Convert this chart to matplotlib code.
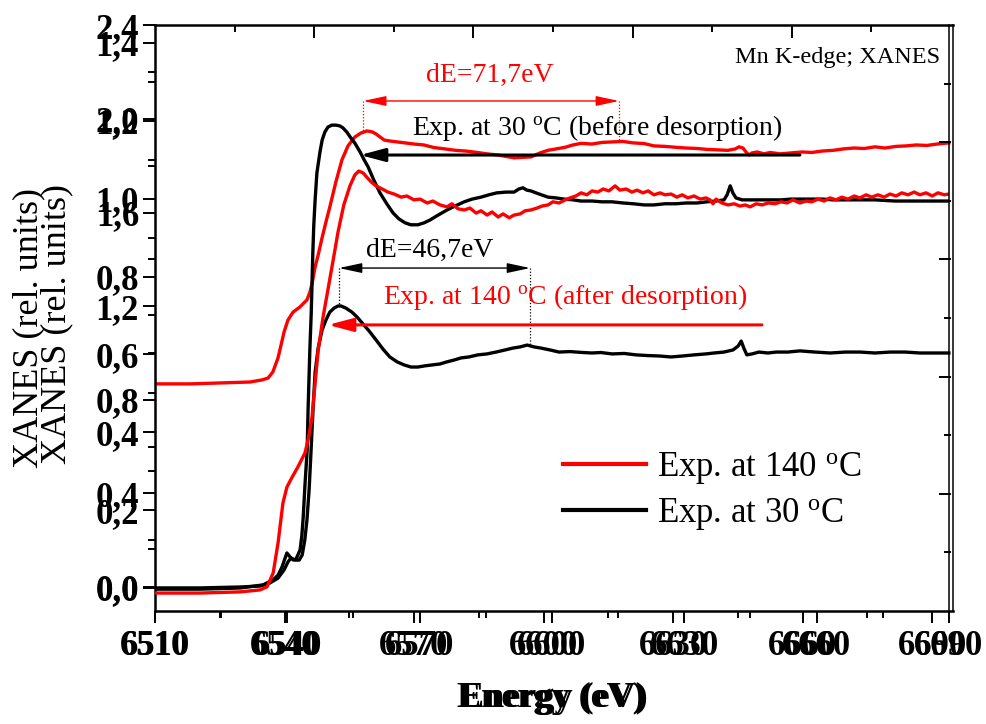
import matplotlib
matplotlib.use('Agg')
import matplotlib.pyplot as plt

plt.rcParams['font.family'] = ['Liberation Serif', 'DejaVu Serif']
plt.rcParams['mathtext.fontset'] = 'custom'
plt.rcParams['mathtext.rm'] = 'Liberation Serif'
plt.rcParams['mathtext.it'] = 'Liberation Serif:italic'
plt.rcParams['mathtext.bf'] = 'Liberation Serif:bold'

# ---------------- data (layer A: stacked spectra, 0..2.4 scale) ----------------
red_top_e = [6510.0, 6518.1, 6525.1, 6532.0, 6534.8, 6536.2, 6537.3, 6538.5, 6539.2, 6539.9,
             6540.8, 6542.0, 6543.6, 6545.2, 6545.9, 6546.4, 6547.1, 6547.8, 6548.7, 6549.6,
             6550.5, 6551.9, 6553.3, 6554.7, 6556.3, 6557.7, 6559.1, 6560.3, 6561.2, 6563.1,
             6564.4, 6566.1, 6567.9, 6570.0, 6572.3, 6574.6, 6577.2, 6579.7, 6582.0, 6584.6,
             6586.9, 6589.5, 6591.3, 6593.2, 6595.0, 6597.1, 6599.2, 6601.0, 6602.9, 6605.0,
             6606.8, 6608.7, 6611.2, 6613.6, 6615.9, 6618.4, 6620.7, 6623.3, 6625.6, 6628.1,
             6630.7, 6633.0, 6635.6, 6637.9, 6640.4, 6642.7, 6644.4, 6645.3, 6646.2, 6646.9,
             6647.6, 6648.3, 6649.5, 6651.1, 6652.5, 6654.8, 6657.3, 6659.9, 6662.2, 6664.5,
             6667.1, 6669.4, 6671.9, 6674.3, 6676.8, 6679.1, 6681.7, 6684.0, 6686.3, 6688.8,
             6691.2, 6693.9]
red_top_v = [0.868, 0.868, 0.872, 0.876, 0.885, 0.893, 0.919, 0.979, 1.034, 1.090,
             1.141, 1.175, 1.197, 1.227, 1.261, 1.299, 1.368, 1.419, 1.492, 1.560,
             1.624, 1.731, 1.825, 1.885, 1.923, 1.940, 1.949, 1.945, 1.936, 1.910,
             1.906, 1.902, 1.898, 1.893, 1.889, 1.878, 1.872, 1.866, 1.863, 1.857,
             1.851, 1.846, 1.840, 1.834, 1.836, 1.838, 1.855, 1.866, 1.872, 1.879,
             1.889, 1.896, 1.893, 1.900, 1.902, 1.904, 1.898, 1.895, 1.885, 1.883,
             1.879, 1.876, 1.874, 1.870, 1.868, 1.866, 1.872, 1.881, 1.876, 1.859,
             1.846, 1.855, 1.859, 1.851, 1.857, 1.851, 1.855, 1.859, 1.857, 1.863,
             1.866, 1.872, 1.876, 1.874, 1.881, 1.876, 1.883, 1.885, 1.889, 1.887,
             1.893, 1.898]

black_low_e = [6510.0, 6520.4, 6529.7, 6534.3, 6536.6, 6538.5, 6539.9, 6540.8, 6541.5, 6542.4,
               6543.4, 6544.1, 6544.7, 6545.2, 6545.7, 6546.1, 6546.6, 6547.1, 6547.8, 6548.7,
               6549.6, 6550.5, 6551.5, 6552.4, 6553.1, 6554.2, 6555.6, 6556.8, 6558.0, 6559.6,
               6561.2, 6562.8, 6564.4, 6566.1, 6567.7, 6569.3, 6570.9, 6572.5, 6574.2, 6576.0,
               6577.6, 6579.3, 6580.9, 6582.7, 6584.8, 6586.9, 6589.0, 6591.1, 6592.9, 6594.6,
               6596.2, 6597.8, 6599.4, 6601.5, 6603.6, 6606.1, 6609.2, 6611.2, 6613.3, 6615.9,
               6618.7, 6621.4, 6624.2, 6627.0, 6629.5, 6632.1, 6634.9, 6637.6, 6639.5, 6641.8,
               6643.9, 6645.1, 6645.8, 6646.4, 6647.1, 6648.3, 6649.9, 6652.0, 6653.9, 6656.6,
               6659.4, 6662.9, 6666.4, 6669.9, 6673.3, 6676.8, 6680.3, 6683.8, 6687.2, 6690.7,
               6693.9]
black_low_v = [-0.004, -0.004, 0.000, 0.004, 0.017, 0.038, 0.073, 0.107, 0.124, 0.115,
               0.115, 0.137, 0.201, 0.286, 0.415, 0.564, 0.756, 0.919, 1.021, 1.098,
               1.141, 1.175, 1.192, 1.201, 1.201, 1.192, 1.175, 1.154, 1.128, 1.094,
               1.056, 1.017, 0.983, 0.962, 0.949, 0.940, 0.940, 0.945, 0.949, 0.953,
               0.962, 0.970, 0.979, 0.983, 0.992, 0.996, 1.004, 1.013, 1.021, 1.026,
               1.034, 1.026, 1.021, 1.013, 1.004, 1.006, 1.002, 1.000, 1.002, 0.996,
               0.998, 0.992, 0.989, 0.987, 0.983, 0.987, 0.992, 0.996, 1.000, 1.004,
               1.013, 1.030, 1.051, 1.021, 0.992, 0.996, 1.004, 1.000, 1.004, 1.004,
               1.009, 1.004, 1.000, 1.004, 1.004, 1.000, 1.004, 1.004, 1.000, 1.000,
               1.000]

# ---------------- data (layer B: normalized spectra, 0..1.4 scale) ----------------
red_low_e = [6510.0, 6520.2, 6529.3, 6533.8, 6535.4, 6536.8, 6537.9, 6539.0, 6539.9, 6541.1,
             6542.4, 6544.0, 6544.7, 6545.6, 6546.3, 6547.0, 6548.1, 6549.2, 6550.4, 6551.5,
             6552.8, 6554.2, 6555.3, 6556.2, 6557.2, 6557.8, 6559.0, 6560.1, 6561.5, 6562.8,
             6564.2, 6565.8, 6567.1, 6568.7, 6570.1, 6571.7, 6573.0, 6574.6, 6576.2, 6577.3,
             6578.7, 6580.1, 6581.4, 6582.8, 6583.9, 6585.3, 6586.4, 6587.8, 6588.9, 6590.3,
             6591.4, 6592.8, 6593.9, 6595.2, 6596.6, 6597.7, 6599.1, 6600.2, 6601.6, 6603.0,
             6604.1, 6605.4, 6606.6, 6607.9, 6609.1, 6610.4, 6611.6, 6612.9, 6614.3, 6615.4,
             6616.8, 6618.1, 6619.3, 6620.6, 6621.8, 6623.1, 6624.5, 6625.6, 6627.0, 6628.3,
             6629.5, 6630.8, 6632.2, 6633.6, 6634.9, 6635.8, 6636.5, 6637.2, 6638.5, 6639.9,
             6641.3, 6642.6, 6643.8, 6644.9, 6646.3, 6647.6, 6649.0, 6650.6, 6651.9, 6653.3,
             6654.6, 6656.2, 6657.6, 6658.9, 6660.3, 6661.7, 6663.0, 6664.4, 6665.7, 6667.1,
             6668.5, 6669.8, 6671.2, 6672.5, 6673.9, 6675.3, 6676.6, 6678.0, 6679.3, 6680.7,
             6682.1, 6683.4, 6684.8, 6686.2, 6687.5, 6688.9, 6690.0]
red_low_v = [-0.013, -0.013, -0.010, -0.005, 0.003, 0.039, 0.116, 0.218, 0.259, 0.285,
             0.311, 0.347, 0.380, 0.439, 0.527, 0.611, 0.696, 0.766, 0.843, 0.915,
             0.984, 1.033, 1.061, 1.071, 1.066, 1.058, 1.043, 1.033, 1.025, 1.017,
             1.012, 1.004, 1.007, 0.997, 0.999, 0.989, 0.994, 0.984, 0.979, 0.987,
             0.974, 0.971, 0.976, 0.963, 0.969, 0.958, 0.966, 0.953, 0.961, 0.951,
             0.958, 0.961, 0.969, 0.971, 0.976, 0.981, 0.984, 0.992, 0.989, 0.997,
             1.002, 1.007, 1.015, 1.010, 1.020, 1.017, 1.025, 1.020, 1.033, 1.022,
             1.025, 1.017, 1.022, 1.015, 1.020, 1.010, 1.015, 1.010, 1.012, 1.004,
             1.010, 1.002, 1.007, 0.999, 1.002, 0.997, 0.987, 0.999, 0.989, 0.984,
             0.987, 0.981, 0.984, 0.979, 0.987, 0.984, 0.989, 0.987, 0.992, 0.989,
             0.997, 0.989, 0.994, 0.992, 0.999, 0.994, 1.002, 0.997, 1.004, 0.999,
             1.007, 1.002, 1.010, 1.004, 1.010, 1.004, 1.012, 1.007, 1.015, 1.010,
             1.017, 1.010, 1.015, 1.007, 1.015, 1.010, 1.012]

black_up_e = [6510.0, 6520.2, 6529.3, 6534.5, 6536.8, 6537.9, 6538.8, 6539.5, 6539.9, 6540.6,
              6541.3, 6542.0, 6542.9, 6543.3, 6543.6, 6544.0, 6544.5, 6544.7, 6545.1, 6545.4,
              6545.6, 6545.8, 6546.0, 6546.3, 6546.7, 6547.4, 6547.9, 6548.5, 6549.2, 6550.1,
              6551.0, 6551.9, 6552.6, 6553.5, 6554.4, 6555.3, 6556.5, 6557.4, 6558.3, 6559.6,
              6561.0, 6562.6, 6564.0, 6565.3, 6566.7, 6568.0, 6569.6, 6571.0, 6572.3, 6574.2,
              6576.2, 6578.0, 6580.1, 6581.9, 6583.9, 6585.7, 6587.5, 6589.6, 6591.4, 6592.5,
              6593.4, 6594.3, 6595.2, 6597.1, 6599.1, 6600.9, 6602.7, 6604.8, 6606.6, 6609.1,
              6611.3, 6613.6, 6616.1, 6618.4, 6620.9, 6623.1, 6625.6, 6628.1, 6630.4, 6632.9,
              6635.1, 6637.2, 6639.0, 6639.7, 6640.4, 6641.0, 6641.7, 6643.1, 6644.9, 6647.2,
              6649.4, 6651.9, 6654.2, 6656.7, 6658.9, 6661.4, 6663.7, 6668.5, 6673.2, 6677.8,
              6682.5, 6686.8, 6690.0]
black_up_v = [-0.003, -0.003, 0.000, 0.008, 0.021, 0.033, 0.054, 0.077, 0.090, 0.080,
              0.072, 0.075, 0.098, 0.136, 0.182, 0.265, 0.355, 0.457, 0.611, 0.701,
              0.784, 0.868, 0.933, 0.997, 1.066, 1.120, 1.151, 1.171, 1.184, 1.189,
              1.189, 1.187, 1.182, 1.171, 1.156, 1.143, 1.120, 1.100, 1.082, 1.048,
              1.015, 0.986, 0.963, 0.948, 0.938, 0.933, 0.933, 0.938, 0.945, 0.958,
              0.971, 0.981, 0.992, 0.999, 1.004, 1.010, 1.015, 1.017, 1.017, 1.025,
              1.028, 1.022, 1.020, 1.012, 1.004, 1.002, 0.999, 0.997, 0.994, 0.994,
              0.992, 0.992, 0.989, 0.987, 0.984, 0.984, 0.987, 0.987, 0.989, 0.989,
              0.992, 0.994, 0.997, 1.010, 1.033, 1.015, 1.002, 0.997, 0.997, 0.997,
              0.997, 0.997, 0.999, 0.999, 0.999, 0.999, 0.997, 0.997, 0.997, 0.994,
              0.994, 0.994, 0.994]

# ---------------- ticks & labels ----------------
x_major = [6510, 6540, 6570, 6600, 6630, 6660, 6690]
x_minor = [6525, 6555, 6585, 6615, 6645, 6675]
x_labels = ['6510', '6540', '6570', '6600', '6630', '6660', '6690']
yA_major = [0.0, 0.4, 0.8, 1.2, 1.6, 2.0, 2.4]
yA_minor = [0.2, 0.6, 1.0, 1.4, 1.8, 2.2]
yA_labels = ['0,0', '0,4', '0,8', '1,2', '1,6', '2,0', '2,4']
yB_major = [0.0, 0.2, 0.4, 0.6, 0.8, 1.0, 1.2, 1.4]
yB_minor = [0.1, 0.3, 0.5, 0.7, 0.9, 1.1, 1.3]
yB_labels = ['0,0', '0,2', '0,4', '0,6', '0,8', '1,0', '1,2', '1,4']
legend_labels = [r'Exp. at 140 $^{\rm o}$C', r'Exp. at 30 $^{\rm o}$C']

W, H = 987, 724
fig = plt.figure(figsize=(W / 100, H / 100), dpi=100)
fig.patch.set_facecolor('white')

left, bottom, top = 155, 611, 25
axA = fig.add_axes([left / W, 1 - bottom / H, (953 - left) / W, (bottom - top) / H])
axB = fig.add_axes([left / W, 1 - bottom / H, (949 - left) / W, (bottom - top) / H])
axC = fig.add_axes([left / W, 1 - bottom / H, (951 - left) / W, (bottom - top) / H])
for a in (axB, axC):
    a.patch.set_alpha(0)

axA.set_xlim(6510, 6694.86)
axA.set_ylim(-0.1026, 2.4017)
axB.set_xlim(6510, 6690.0)
axB.set_ylim(-0.0591, 1.4462)
axC.set_xlim(0, 1)
axC.set_ylim(0, 1)

lab_font = dict(fontsize=25, fontweight='bold', family=['Liberation Serif', 'DejaVu Serif'])
for ax, ymaj, ymin, ylab in ((axA, yA_major, yA_minor, yA_labels),
                             (axB, yB_major, yB_minor, yB_labels)):
    ax.set_xticks(x_major)
    ax.set_xticks(x_minor, minor=True)
    ax.set_xticklabels(x_labels, **lab_font)
    ax.set_yticks(ymaj)
    ax.set_yticks(ymin, minor=True)
    ax.set_yticklabels(ylab, **lab_font)
    ax.tick_params(which='both', direction='out', top=False, right=False, width=1.4)
    ax.tick_params(which='major', length=8.5)
    ax.tick_params(which='minor', length=5)
    ax.tick_params(axis='x', which='major', pad=5)
    ax.tick_params(axis='y', which='major', pad=3)

for s in ('left', 'bottom', 'top'):
    axA.spines[s].set_linewidth(1.8)
    axB.spines[s].set_visible(False)
axA.spines['right'].set_linewidth(1.1)
axB.spines['right'].set_linewidth(1.1)

for s in axC.spines.values():
    s.set_visible(False)
axC.set_xticks([0.2, 0.4, 0.6, 0.8])
axC.set_xticks([0.1, 0.3, 0.5, 0.7, 0.9], minor=True)
axC.set_yticks([0.2, 0.4, 0.6, 0.8])
axC.set_yticks([0.1, 0.3, 0.5, 0.7, 0.9], minor=True)
axC.tick_params(which='both', direction='in', bottom=False, left=False, top=True, right=True,
                labelbottom=False, labelleft=False, width=1.4)
axC.tick_params(which='major', length=9)
axC.tick_params(which='minor', length=5)

# curves
axA.plot(red_top_e, red_top_v, color='#ff0000', lw=2.4, solid_joinstyle='round')
axA.plot(black_low_e, black_low_v, color='black', lw=2.4, solid_joinstyle='round')
l30, = axB.plot(black_up_e, black_up_v, color='black', lw=2.4, solid_joinstyle='round')
l140, = axB.plot(red_low_e, red_low_v, color='#ff0000', lw=2.4, solid_joinstyle='round')

# annotations (layer A data coordinates)
axA.text(6691.9, 2.261, 'Mn K-edge; XANES', fontsize=17.5, ha='right', va='center')
axA.text(6587.6, 2.188, 'dE=71,7eV', fontsize=20, color='#ff0000', ha='center', va='center')
axA.annotate('', xy=(6558.2, 2.077), xytext=(6617.5, 2.077),
             arrowprops=dict(arrowstyle='<|-|>,head_length=0.7,head_width=0.15', color='#ff0000',
                             lw=1.0, shrinkA=0, shrinkB=0, mutation_scale=20))
axA.plot([6558.2, 6558.2], [2.077, 1.932], color='#ff0000', lw=0.9, ls=(0, (1, 1.5)))
axA.plot([6617.5, 6617.5], [2.077, 1.902], color='#ff0000', lw=0.9, ls=(0, (1, 1.5)))
axA.text(6569.5, 1.962, r'Exp. at 30 $^{\rm o}$C (before desorption)', fontsize=20,
         ha='left', va='center')
axA.annotate('', xy=(6557.5, 1.846), xytext=(6659.4, 1.846),
             arrowprops=dict(arrowstyle='-|>,head_length=0.75,head_width=0.2', color='black',
                             lw=2.2, shrinkA=0, shrinkB=0, mutation_scale=20))
axA.text(6573.7, 1.440, 'dE=46,7eV', fontsize=20, ha='center', va='center')
axA.annotate('', xy=(6552.6, 1.363), xytext=(6596.9, 1.363),
             arrowprops=dict(arrowstyle='<|-|>,head_length=0.7,head_width=0.15', color='black',
                             lw=1.0, shrinkA=0, shrinkB=0, mutation_scale=20))
axA.plot([6552.6, 6552.6], [1.363, 1.192], color='black', lw=0.9, ls=(0, (1, 1.5)))
axA.plot([6596.9, 6596.9], [1.363, 1.034], color='black', lw=0.9, ls=(0, (1, 1.5)))
axA.text(6562.8, 1.239, r'Exp. at 140 $^{\rm o}$C (after desorption)', fontsize=20,
         color='#ff0000', ha='left', va='center')
axA.annotate('', xy=(6550.1, 1.120), xytext=(6650.6, 1.120),
             arrowprops=dict(arrowstyle='-|>,head_length=0.75,head_width=0.2', color='#ff0000',
                             lw=2.2, shrinkA=0, shrinkB=0, mutation_scale=20))

# legend
axB.legend([l140, l30], legend_labels, loc='center left',
           bbox_to_anchor=(563 / W, 1 - 491 / H), bbox_transform=fig.transFigure,
           frameon=False, fontsize=25, handlelength=2.4, handletextpad=0.3,
           labelspacing=0.3, borderpad=0, borderaxespad=0)
for h in axB.get_legend().get_lines():
    h.set_linewidth(3)

# axis titles (doubled as in the source)
fig.text(29 / W, 1 - 328 / H, 'XANES (rel. units)', rotation=90, fontsize=26,
         ha='center', va='center')
fig.text(57 / W, 1 - 324 / H, 'XANES (rel. units)', rotation=90, fontsize=26,
         ha='center', va='center')
fig.text(551 / W, 1 - 698 / H, 'Energy (eV)', fontsize=26, fontweight='bold',
         ha='center', va='center')
fig.text(554 / W, 1 - 698 / H, 'Energy (eV)', fontsize=26, fontweight='bold',
         ha='center', va='center')

fig.savefig('out.png', dpi=100)
